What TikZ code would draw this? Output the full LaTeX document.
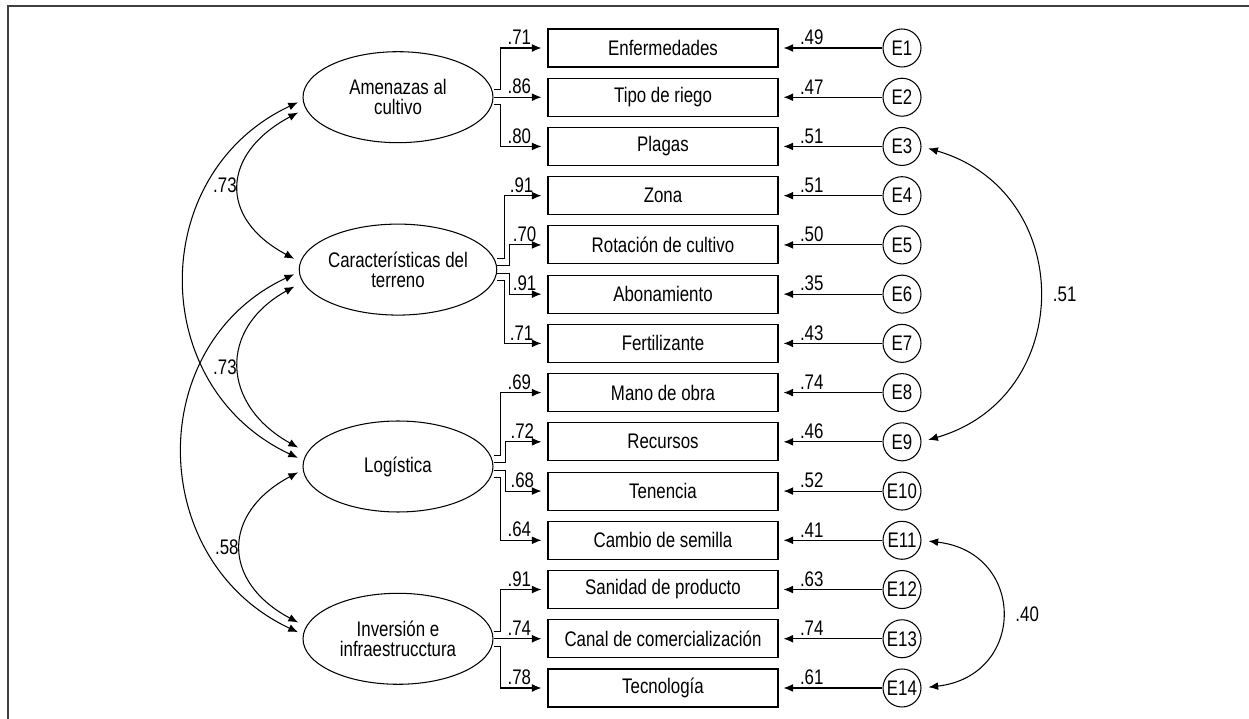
\documentclass[tikz,border=0pt]{standalone}
\usepackage{fontspec}
\setmainfont{Liberation Sans}[FakeStretch=0.8]
\usepackage{tikz}
\usetikzlibrary{positioning, arrows.meta, shapes.geometric}

\begin{document}
\begin{tikzpicture}[x=0.02cm, y=-0.02cm, line width=0.6pt,
	>={Latex[length=5.5pt,width=4.5pt]},
	every node/.style={font=\fontsize{12}{11.2}\selectfont},
	latent/.style={draw, ellipse, minimum width=3.8cm, minimum height=1.82cm, inner sep=0pt, align=center},
	ind/.style={draw, minimum width=4.6cm, minimum height=0.76cm, inner sep=0pt},
	err/.style={draw, circle, minimum size=0.76cm, inner sep=0pt},
	coef/.style={above, inner sep=1.5pt}]
			\useasboundingbox (0,0) rectangle (1249,719);
			\draw[line width=0.8pt, black!75] (8,719) -- (8,6) -- (1249,6);
			
			\node[latent] (amen) at (398,97.2) {Amenazas al\\cultivo};
			\node[latent] (car) at (398,269.6) {Características del\\terreno};
			\node[latent] (logi) at (398,466.5) {Logística};
			\node[latent] (inv) at (398,638.8) {Inversión e\\infraestrucctura};
			
			\foreach \i/\txt/\ev in {1/Enfermedades/.49, 2/Tipo de riego/.47, 3/Plagas/.51,
				4/Zona/.51, 5/Rotación de cultivo/.50, 6/Abonamiento/.35, 7/Fertilizante/.43,
				8/Mano de obra/.74, 9/Recursos/.46, 10/Tenencia/.52, 11/Cambio de semilla/.41,
				12/Sanidad de producto/.63, 13/Canal de comercialización/.74, 14/Tecnología/.61} {
				\node[ind] (b\i) at (663,{48+49.23*(\i-1)}) {\txt};
				\node[err] (e\i) at (902,{48+49.23*(\i-1)}) {E\i};
				\draw[->, shorten >=1mm] (e\i.west) -- node[coef, pos=0.68] {\ev} (b\i.east);
			}
			
			\foreach \lat/\dy/\dx/\i/\lam in {amen/-7.5/7/1/.71, amen/0/7/2/.86, amen/7.5/7/3/.80,
				car/-11/7/4/.91, car/-4/12/5/.70, car/4/12/6/.91, car/11/7/7/.71,
				logi/-11/7/8/.69, logi/-4/12/9/.72, logi/4/12/10/.68, logi/11/7/11/.64,
				inv/-7/7/12/.91, inv/0/7/13/.74, inv/8/7/14/.78}
				\draw[->, shorten >=1.2mm] ([shift={(0,\dy)}]\lat.east) -- ++(\dx,0) |- node[coef, pos=0.7] {\lam} (b\i.west);
			
			\draw[<->, shorten <=1mm, shorten >=1mm] ([shift={(0,13)}]amen.west) .. controls +(-81,43) and +(-81,-43) .. ([shift={(0,-8.5)}]car.west) node[pos=0.5, left, inner sep=1.5pt] {.73};
			\draw[<->, shorten <=1mm, shorten >=1mm] ([shift={(0,14.5)}]car.west) .. controls +(-81,45) and +(-81,-45) .. ([shift={(0,-16.5)}]logi.west) node[pos=0.5, left, inner sep=1.5pt] {.73};
			\draw[<->, shorten <=1mm, shorten >=1mm] ([shift={(0,3.5)}]logi.west) .. controls +(-81,43) and +(-81,-43) .. ([shift={(0,-14)}]inv.west) node[pos=0.5, left, inner sep=1.5pt] {.58};
			\draw[<->, shorten <=1mm, shorten >=1mm] ([shift={(0,3)}]amen.west) .. controls +(-156,73) and +(-156,-73) .. ([shift={(0,-6.5)}]logi.west);
			\draw[<->, shorten <=1mm, shorten >=1mm] ([shift={(0,2.5)}]car.west) .. controls +(-156,73) and +(-156,-73) .. ([shift={(0,-4.5)}]inv.west);
			
			\draw[<->, shorten <=1.4mm, shorten >=1.4mm] (e3.east) .. controls +(155,45) and +(155,-45) .. (e9.east) node[pos=0.5, right=5pt] {.51};
			\draw[<->, shorten <=1.4mm, shorten >=1.4mm] (e11.east) .. controls +(105,12) and +(105,-12) .. (e14.east) node[pos=0.5, right=5pt] {.40};
\end{tikzpicture}
\end{document}
